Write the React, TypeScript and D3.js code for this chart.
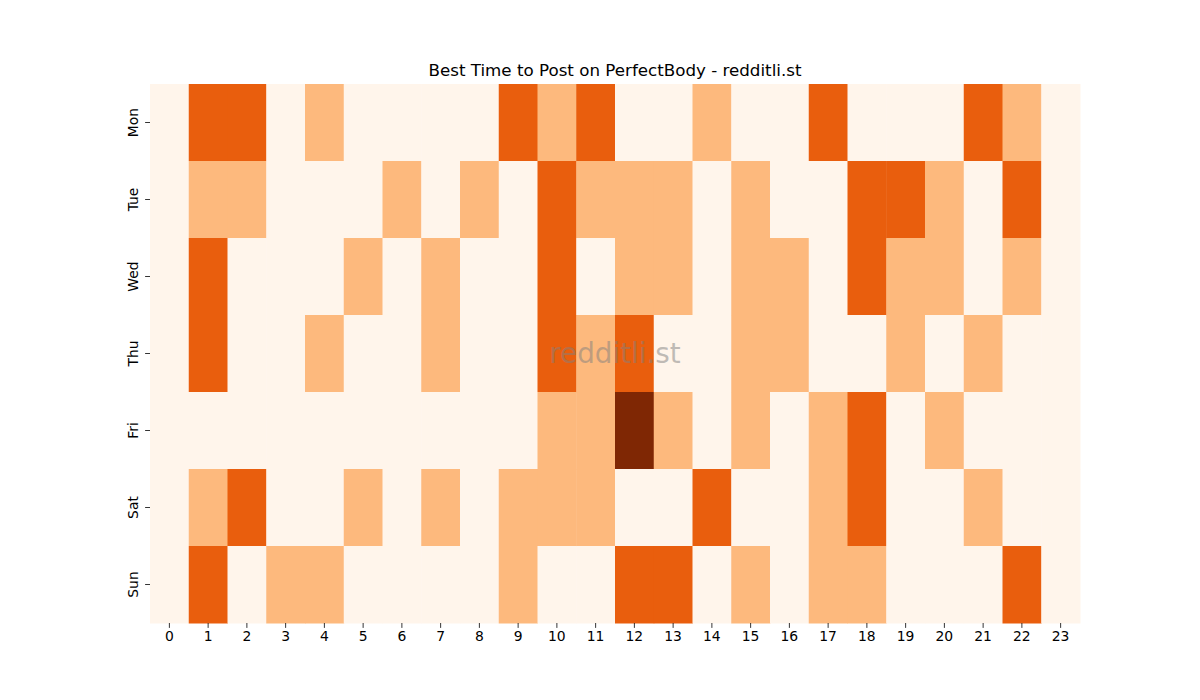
import React, { useEffect, useRef } from 'react';
import * as d3 from 'd3';

const DAYS = ['Mon', 'Tue', 'Wed', 'Thu', 'Fri', 'Sat', 'Sun'];
const HOURS = d3.range(24).map(String);

// activity level per hour (0-3), one row per day
const MON = [0, 2, 2, 0, 1, 0, 0, 0, 0, 2, 1, 2, 0, 0, 1, 0, 0, 2, 0, 0, 0, 2, 1, 0];
const TUE = [0, 1, 1, 0, 0, 0, 1, 0, 1, 0, 2, 1, 1, 1, 0, 1, 0, 0, 2, 2, 1, 0, 2, 0];
const WED = [0, 2, 0, 0, 0, 1, 0, 1, 0, 0, 2, 0, 1, 1, 0, 1, 1, 0, 2, 1, 1, 0, 1, 0];
const THU = [0, 2, 0, 0, 1, 0, 0, 1, 0, 0, 2, 1, 2, 0, 0, 1, 1, 0, 0, 1, 0, 1, 0, 0];
const FRI = [0, 0, 0, 0, 0, 0, 0, 0, 0, 0, 1, 1, 3, 1, 0, 1, 0, 1, 2, 0, 1, 0, 0, 0];
const SAT = [0, 1, 2, 0, 0, 1, 0, 1, 0, 1, 1, 1, 0, 0, 2, 0, 0, 1, 2, 0, 0, 1, 0, 0];
const SUN = [0, 2, 0, 1, 1, 0, 0, 0, 0, 1, 0, 0, 2, 2, 0, 1, 0, 1, 1, 0, 0, 0, 2, 0];
const VALUES = [MON, TUE, WED, THU, FRI, SAT, SUN];

const LEVEL_COLORS = ['#fff5eb', '#fdb97d', '#e95e0d', '#7f2704'];

const W = 1200;
const H = 700;
const margin = { top: 84, right: 120, bottom: 77, left: 150 };

const App: React.FC = () => {
  const svgRef = useRef<SVGSVGElement>(null);

  useEffect(() => {
    if (!svgRef.current) return;
    const svg = d3.select(svgRef.current);
    svg.selectAll('*').remove();

    const x = d3.scaleBand().domain(HOURS).range([margin.left, W - margin.right]);
    const y = d3.scaleBand().domain(DAYS).range([margin.top, H - margin.bottom]);
    const color = d3.scaleOrdinal<number, string>().domain([0, 1, 2, 3]).range(LEVEL_COLORS);

    const cells = DAYS.flatMap((day, i) =>
      VALUES[i].map((v, h) => ({ day, hour: HOURS[h], v }))
    );

    svg.append('g')
      .selectAll('rect')
      .data(cells)
      .enter()
      .append('rect')
      .attr('x', d => x(d.hour)!)
      .attr('y', d => y(d.day)!)
      .attr('width', x.bandwidth() + 0.5)
      .attr('height', y.bandwidth() + 0.5)
      .attr('fill', d => color(d.v));

    // x axis
    const xAxis = svg.append('g')
      .attr('transform', `translate(0,${H - margin.bottom})`)
      .call(d3.axisBottom(x).tickSize(4.9).tickPadding(3.5));
    xAxis.select('.domain').remove();

    // y axis, labels rotated like seaborn
    const yAxis = svg.append('g')
      .attr('transform', `translate(${margin.left},0)`)
      .call(d3.axisLeft(y).tickSize(4.9).tickPadding(3.5));
    yAxis.select('.domain').remove();
    yAxis.selectAll('text')
      .attr('text-anchor', 'middle')
      .attr('dy', null)
      .attr('x', null)
      .attr('transform', 'translate(-17,0) rotate(-90)')
      .attr('dominant-baseline', 'central');

    svg.selectAll('.tick line').attr('stroke', '#000').attr('stroke-width', 0.8);
    svg.selectAll('.tick text')
      .attr('fill', '#000')
      .style('font-family', '"DejaVu Sans", sans-serif')
      .style('font-size', '13.9px');

    // title
    svg.append('text')
      .attr('x', (margin.left + W - margin.right) / 2)
      .attr('y', margin.top - 8)
      .attr('text-anchor', 'middle')
      .style('font-family', '"DejaVu Sans", sans-serif')
      .style('font-size', '16.7px')
      .attr('fill', '#000')
      .text('Best Time to Post on PerfectBody - redditli.st');

    // watermark
    svg.append('text')
      .attr('x', (margin.left + W - margin.right) / 2)
      .attr('y', (margin.top + H - margin.bottom) / 2)
      .attr('text-anchor', 'middle')
      .attr('dominant-baseline', 'central')
      .style('font-family', '"DejaVu Sans", sans-serif')
      .style('font-size', '27.8px')
      .attr('fill', '#808080')
      .attr('fill-opacity', 0.5)
      .text('redditli.st');
  }, []);

  return (
    <svg ref={svgRef} width={W} height={H} style={{ display: 'block', margin: -8, background: '#fff' }} />
  );
};

export default App;
